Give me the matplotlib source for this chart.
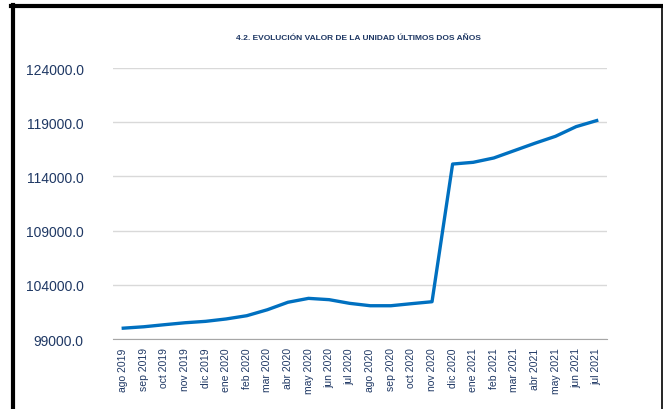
import matplotlib.pyplot as plt
from matplotlib.lines import Line2D

# Meses (eje x) y valor de la unidad
meses = ["ago 2019", "sep 2019", "oct 2019", "nov 2019", "dic 2019",
         "ene 2020", "feb 2020", "mar 2020", "abr 2020", "may 2020",
         "jun 2020", "jul 2020", "ago 2020", "sep 2020", "oct 2020",
         "nov 2020", "dic 2020", "ene 2021", "feb 2021", "mar 2021",
         "abr 2021", "may 2021", "jun 2021", "jul 2021"]
valor = [100000, 100130, 100320, 100500, 100630,
         100850, 101150, 101700, 102390, 102750,
         102630, 102290, 102070, 102070, 102260,
         102440, 115140, 115300, 115700, 116380,
         117060, 117700, 118590, 119150]
yticks = [99000, 104000, 109000, 114000, 119000, 124000]

navy = "#1F3864"
plt.rcParams["font.family"] = ["Liberation Sans", "DejaVu Sans"]

fig = plt.figure(figsize=(6.63, 4.10), dpi=100)
ax = fig.add_axes([0.1704, 0.1707, 0.7451, 0.661])

x = list(range(len(meses)))
ax.plot(x, valor, color="#0070C0", lw=2.4, solid_joinstyle="round")

ax.set_xlim(-0.5, len(meses) - 0.5)
ax.set_ylim(99000, 124000)
ax.set_yticks(yticks)
ax.set_yticklabels([f"{v:.1f}" for v in yticks], color=navy, fontsize=10)
ax.set_xticks(x)
ax.set_xticklabels(meses, rotation=90, color=navy, fontsize=7.5)
ax.tick_params(length=0, pad=6)
ax.tick_params(axis="y", pad=21)

ax.grid(axis="y", color="#D9D9D9", lw=1)
ax.set_axisbelow(True)
for s in ["top", "right", "left"]:
    ax.spines[s].set_visible(False)
ax.spines["bottom"].set_color("#A6A6A6")

fig.text(0.54, 0.907, "4.2. EVOLUCIÓN VALOR DE LA UNIDAD ÚLTIMOS DOS AÑOS",
         ha="center", va="center", fontsize=6, fontweight="bold", color=navy)

# Marco negro
fig.add_artist(Line2D([0.019, 0.019], [0.0, 0.985], color="black", lw=3,
                      transform=fig.transFigure))
fig.add_artist(Line2D([0.017, 1.0], [0.984, 0.984], color="black", lw=3,
                      transform=fig.transFigure))
fig.add_artist(Line2D([0.999, 0.999], [0.0, 0.985], color="black", lw=1.2,
                      transform=fig.transFigure))

fig.savefig("out.png", dpi=100)
